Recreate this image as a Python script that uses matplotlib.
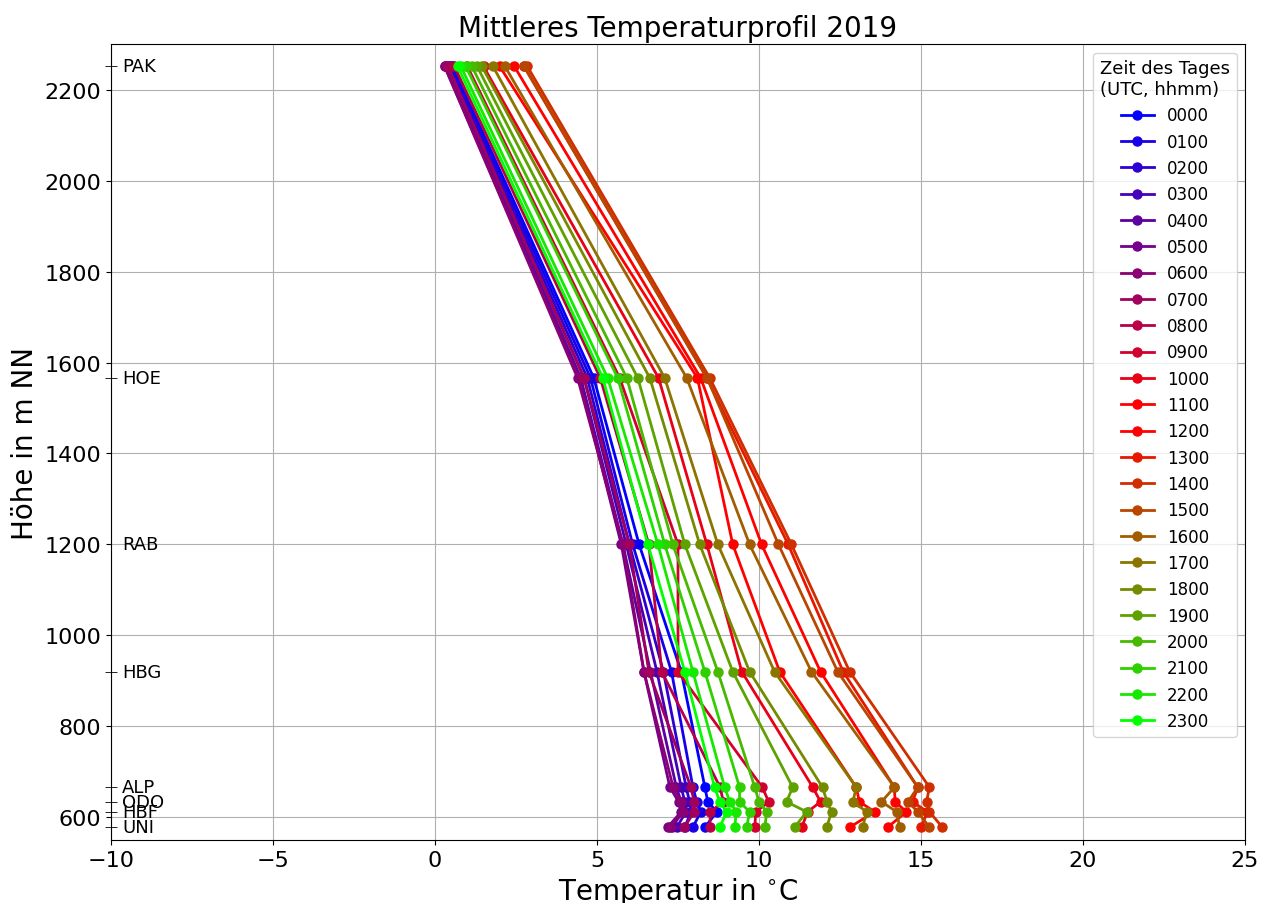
import numpy as np
import matplotlib.pyplot as plt

# Stationen und Hoehen (m NN)
stations = ["UNI", "HBF", "ODO", "ALP", "HBG", "RAB", "HOE", "PAK"]
heights = [578, 612, 634, 666, 920, 1200, 1566, 2251]

hours = ["%02d00" % h for h in range(24)]

# mittlere Temperatur je Station, Stunde 00..23 UTC
t_uni = [8.33, 7.96, 7.71, 7.46, 7.31, 7.18, 7.25, 7.70, 8.48, 9.87, 11.32, 12.80,
         13.97, 15.00, 15.66, 15.26, 14.34, 13.20, 12.09, 11.10, 10.18, 9.62, 9.25, 8.79]
t_hbf = [8.70, 8.20, 7.90, 7.75, 7.65, 7.60, 7.65, 8.00, 8.50, 9.90, 11.50, 13.57,
         14.55, 15.20, 15.26, 14.90, 14.25, 13.32, 12.24, 11.47, 10.24, 9.71, 9.30, 9.00]
t_odo = [8.42, 8.08, 7.86, 7.71, 7.60, 7.52, 7.60, 8.00, 8.90, 10.30, 11.90, 13.10,
         14.20, 14.74, 15.17, 14.60, 13.78, 12.90, 12.10, 10.85, 10.00, 9.40, 9.10, 8.79]
t_alp = [8.33, 7.96, 7.75, 7.60, 7.45, 7.25, 7.35, 7.90, 8.80, 10.10, 11.66, 13.00,
         14.18, 14.90, 15.26, 14.90, 14.18, 13.00, 11.96, 11.04, 9.87, 9.40, 8.94, 8.63]
t_hbg = [7.60, 7.30, 7.05, 6.85, 6.65, 6.45, 6.45, 6.60, 7.00, 7.50, 9.47, 10.64,
         11.90, 12.60, 12.80, 12.43, 11.62, 10.48, 9.71, 9.19, 8.73, 8.33, 7.96, 7.71]
t_rab = [6.30, 6.10, 6.00, 5.90, 5.80, 5.75, 5.80, 6.00, 6.60, 7.50, 8.39, 9.19,
         10.08, 10.90, 11.00, 10.60, 9.71, 8.73, 8.17, 7.71, 7.34, 7.09, 6.88, 6.57]
t_hoe = [4.90, 4.80, 4.70, 4.60, 4.50, 4.45, 4.40, 4.60, 5.10, 5.70, 6.90, 8.10,
         8.20, 8.39, 8.48, 8.40, 7.77, 7.09, 6.63, 6.26, 5.92, 5.64, 5.33, 5.18]
t_pak = [0.55, 0.50, 0.45, 0.40, 0.35, 0.30, 0.30, 0.40, 0.60, 1.00, 1.50, 2.00,
         2.45, 2.75, 2.85, 2.75, 2.16, 1.79, 1.45, 1.30, 1.14, 0.95, 0.80, 0.70]

temps = np.array([t_uni, t_hbf, t_odo, t_alp, t_hbg, t_rab, t_hoe, t_pak])

# Farben: blau -> rot (00-11), rot -> gruen (12-23)
colors = []
for h in range(24):
    if h < 12:
        colors.append((h / 11, 0, 1 - h / 11))
    else:
        colors.append(((23 - h) / 11, (h - 12) / 11, 0))

fig = plt.figure(figsize=(12.73, 9.04), dpi=100)
ax = fig.add_axes([0.0872, 0.0697, 0.8908, 0.8803])

for i in range(24):
    ax.plot(temps[:, i], heights, '-o', color=colors[i], lw=2, ms=6.5, label=hours[i])

ax.set_xlim(-10, 25)
ax.set_ylim(550, 2300)
ax.set_xticks(np.arange(-10, 26, 5))
ax.set_yticks(np.arange(600, 2201, 200))
ax.set_yticks(heights, minor=True)
ax.tick_params(axis='both', which='major', labelsize=16)
ax.tick_params(axis='y', which='minor', direction='inout', length=8)
ax.grid(True, which='major', color='#b0b0b0', lw=0.8)

for name, h in zip(stations, heights):
    ax.text(-9.65, h, name, va='center', ha='left', fontsize=13)

ax.set_title("Mittleres Temperaturprofil 2019", fontsize=20)
ax.set_xlabel(r"Temperatur in $^{\circ}$C", fontsize=20)
ax.set_ylabel("Höhe in m NN", fontsize=20)

ax.legend(title="Zeit des Tages\n(UTC, hhmm)", loc='upper right',
          fontsize=12, title_fontsize=13)

fig.savefig("out.png", dpi=100)
